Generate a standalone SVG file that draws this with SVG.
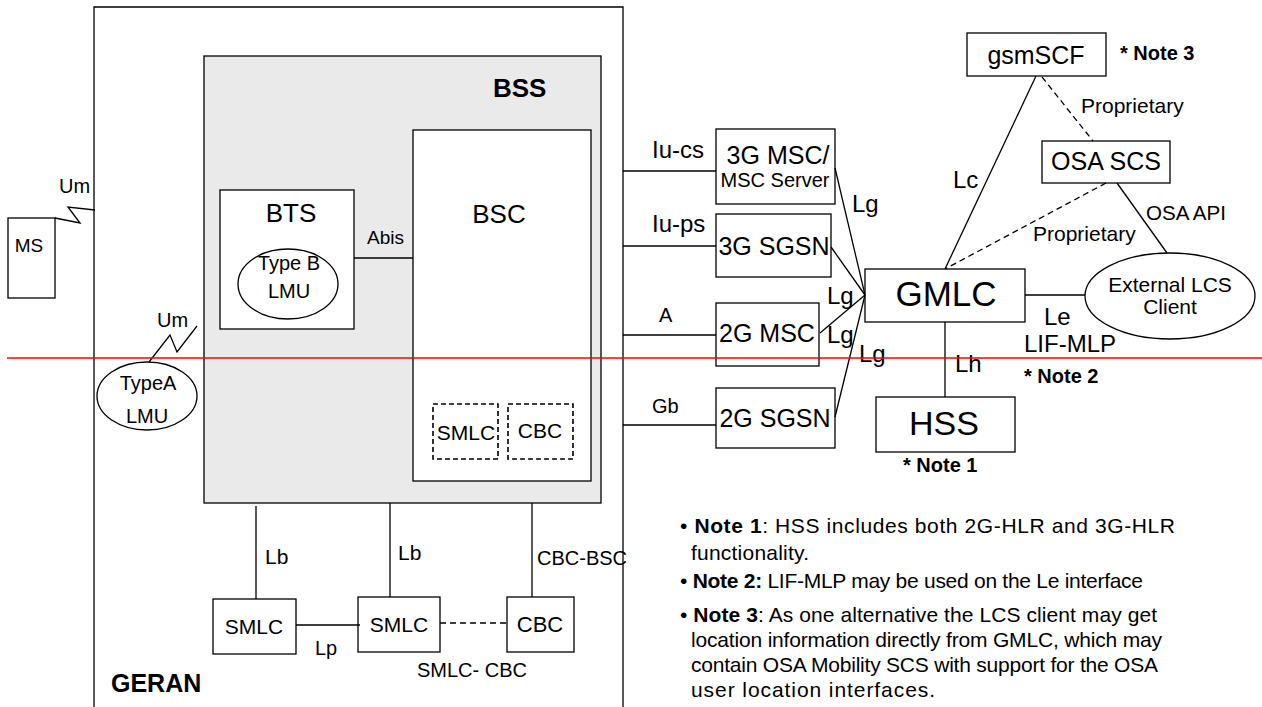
<svg xmlns="http://www.w3.org/2000/svg" width="1262" height="707" viewBox="0 0 1262 707">
<style>
text{font-family:"Liberation Sans",Arial,Helvetica,sans-serif;fill:#000}
.b{fill:#fff;stroke:#000;stroke-width:1.3}
.d{fill:#fff;stroke:#000;stroke-width:1.6;stroke-dasharray:5,3}
.l{stroke:#000;stroke-width:1.3;fill:none}
.dl{stroke:#000;stroke-width:1.3;fill:none;stroke-dasharray:6,4}
.bold{font-weight:bold}
.m{text-anchor:middle}
</style>
<rect width="1262" height="707" fill="#fff"/>
<g id="geran">
<path class="l" d="M94,720 V7 H623 V720" stroke-width="1.6"/>
<text x="111" y="692" font-size="25" class="bold">GERAN</text>
</g>
<g id="bss">
<rect x="204" y="56" width="397" height="447" fill="#eaeaea" stroke="#000" stroke-width="1.3"/>
<text x="493" y="97" font-size="26" class="bold">BSS</text>
</g>
<g id="bsc">
<rect class="b" x="413" y="130" width="178" height="351"/>
<text x="499" y="223" font-size="26" class="m">BSC</text>
</g>
<g id="bsc-smlc">
<rect class="d" x="433" y="404" width="65" height="55"/>
<text x="466" y="440" font-size="21" class="m">SMLC</text>
</g>
<g id="bsc-cbc">
<rect class="d" x="508" y="404" width="65" height="55"/>
<text x="540" y="438" font-size="21" class="m">CBC</text>
</g>
<g id="bts">
<rect class="b" x="220" y="190" width="134" height="139"/>
<text x="291" y="222" font-size="26" class="m">BTS</text>
</g>
<g id="typeb-lmu">
<ellipse class="b" cx="288" cy="284" rx="50" ry="35"/>
<text x="289" y="270" font-size="20" class="m">Type B</text>
<text x="289" y="298" font-size="20" class="m">LMU</text>
</g>
<g id="ms">
<rect class="b" x="8" y="218" width="47" height="80"/>
<text x="29" y="252" font-size="19" class="m">MS</text>
</g>
<g id="typea-lmu">
<ellipse class="b" cx="147" cy="396" rx="50" ry="34"/>
<text x="148" y="390" font-size="20" class="m">TypeA</text>
<text x="147" y="423" font-size="20" class="m">LMU</text>
</g>
<g id="msc3g">
<rect class="b" x="716" y="129" width="119" height="75"/>
<text x="778" y="164" font-size="25" class="m">3G MSC/</text>
<text x="775" y="187" font-size="20" class="m">MSC Server</text>
</g>
<g id="sgsn3g">
<rect class="b" x="716" y="214" width="115" height="63"/>
<text x="774" y="255" font-size="25" class="m">3G SGSN</text>
</g>
<g id="msc2g">
<rect class="b" x="716" y="303" width="103" height="63"/>
<text x="767" y="342" font-size="25" class="m">2G MSC</text>
</g>
<g id="sgsn2g">
<rect class="b" x="716" y="388" width="119" height="60"/>
<text x="775" y="427" font-size="25" class="m">2G SGSN</text>
</g>
<g id="gmlc">
<rect class="b" x="865" y="269" width="160" height="53"/>
<text x="946" y="306" font-size="35" class="m">GMLC</text>
</g>
<g id="hss">
<rect class="b" x="876" y="397" width="139" height="55"/>
<text x="944" y="435" font-size="34" class="m">HSS</text>
<text x="903" y="472" font-size="20" class="bold">* Note 1</text>
</g>
<g id="gsmscf">
<rect class="b" x="967" y="33" width="139" height="43"/>
<text x="1036" y="64" font-size="25" class="m">gsmSCF</text>
<text x="1120" y="60" font-size="20" class="bold">* Note 3</text>
</g>
<g id="osascs">
<rect class="b" x="1042" y="141" width="128" height="42"/>
<text x="1106" y="170" font-size="25" class="m">OSA SCS</text>
</g>
<g id="extlcs">
<ellipse class="b" cx="1170" cy="296" rx="85" ry="43"/>
<text x="1170" y="292" font-size="21" class="m">External LCS</text>
<text x="1170" y="314" font-size="21" class="m">Client</text>
</g>
<g id="smlc1">
<rect class="b" x="213" y="599" width="83" height="55"/>
<text x="254" y="634" font-size="21" class="m">SMLC</text>
</g>
<g id="smlc2">
<rect class="b" x="358" y="597" width="82" height="55"/>
<text x="399" y="632" font-size="21" class="m">SMLC</text>
</g>
<g id="cbc">
<rect class="b" x="507" y="597" width="67" height="55"/>
<text x="540" y="632" font-size="22" class="m">CBC</text>
</g>
<g id="connectors">
<polyline class="l" points="55,218 80,223 68,207 95,210"/>
<text x="59" y="193" font-size="20">Um</text>
<polyline class="l" points="149,362 170,335 177,352 197,326"/>
<text x="157" y="327" font-size="20">Um</text>
<line class="l" x1="354" y1="258" x2="413" y2="258"/>
<text x="367" y="244" font-size="19">Abis</text>
<line class="l" x1="623" y1="171" x2="716" y2="171"/>
<text x="652" y="158" font-size="24">Iu-cs</text>
<line class="l" x1="623" y1="246" x2="716" y2="246"/>
<text x="652" y="232" font-size="24">Iu-ps</text>
<line class="l" x1="623" y1="335" x2="716" y2="335"/>
<text x="659" y="322" font-size="20">A</text>
<line class="l" x1="623" y1="425" x2="716" y2="425"/>
<text x="652" y="413" font-size="20">Gb</text>
<line class="l" x1="835" y1="168" x2="865" y2="295"/>
<line class="l" x1="831" y1="247" x2="865" y2="295"/>
<line class="l" x1="820" y1="333" x2="865" y2="295"/>
<line class="l" x1="835" y1="417" x2="865" y2="295"/>
<text x="852" y="212" font-size="24">Lg</text>
<text x="827" y="304" font-size="24">Lg</text>
<text x="827" y="343" font-size="24">Lg</text>
<text x="859" y="362" font-size="24">Lg</text>
<line class="l" x1="1036" y1="76" x2="945" y2="269"/>
<text x="953" y="188" font-size="24">Lc</text>
<line class="dl" x1="1042" y1="77" x2="1093" y2="141"/>
<text x="1081" y="113" font-size="21">Proprietary</text>
<line class="dl" x1="1106" y1="183" x2="945" y2="269"/>
<text x="1033" y="241" font-size="21">Proprietary</text>
<line class="l" x1="1117" y1="183" x2="1167" y2="253"/>
<text x="1146" y="220" font-size="21" textLength="80" lengthAdjust="spacingAndGlyphs">OSA API</text>
<line class="l" x1="1025" y1="295" x2="1085" y2="295"/>
<text x="1044" y="325" font-size="24">Le</text>
<text x="1024" y="352" font-size="24">LIF-MLP</text>
<text x="1024" y="383" font-size="20" class="bold">* Note 2</text>
<line class="l" x1="945" y1="322" x2="945" y2="397"/>
<text x="955" y="372" font-size="24">Lh</text>
<line class="l" x1="256" y1="506" x2="256" y2="599"/>
<text x="265" y="564" font-size="21">Lb</text>
<line class="l" x1="390" y1="503" x2="390" y2="597"/>
<text x="398" y="560" font-size="21">Lb</text>
<line class="l" x1="532" y1="503" x2="532" y2="597"/>
<text x="537" y="565" font-size="20">CBC-BSC</text>
<line class="l" x1="296" y1="625" x2="360" y2="625"/>
<text x="315" y="655" font-size="20">Lp</text>
<line class="dl" x1="440" y1="623" x2="507" y2="623" stroke-width="1.6"/>
<text x="417" y="677" font-size="20">SMLC- CBC</text>
</g>
<g id="boundary">
<line x1="7" y1="358" x2="1262" y2="358" stroke="#ff0000" stroke-width="1.6"/>
</g>
<g id="notes" font-size="21">
<text x="680" y="533" textLength="495" lengthAdjust="spacing">• <tspan class="bold">Note 1</tspan>: HSS includes both 2G-HLR and 3G-HLR</text>
<text x="691" y="560" textLength="118" lengthAdjust="spacing">functionality.</text>
<text x="680" y="588" textLength="463" lengthAdjust="spacing">• <tspan class="bold">Note 2:</tspan> LIF-MLP may be used on the Le interface</text>
<text x="680" y="622" textLength="477" lengthAdjust="spacing">• <tspan class="bold">Note 3</tspan>: As one alternative the LCS client may get</text>
<text x="691" y="647" textLength="471" lengthAdjust="spacing">location information directly from GMLC, which may</text>
<text x="691" y="672" textLength="467" lengthAdjust="spacing">contain OSA Mobility SCS with support for the OSA</text>
<text x="691" y="697" textLength="244" lengthAdjust="spacing">user location interfaces.</text>
</g>
</svg>
